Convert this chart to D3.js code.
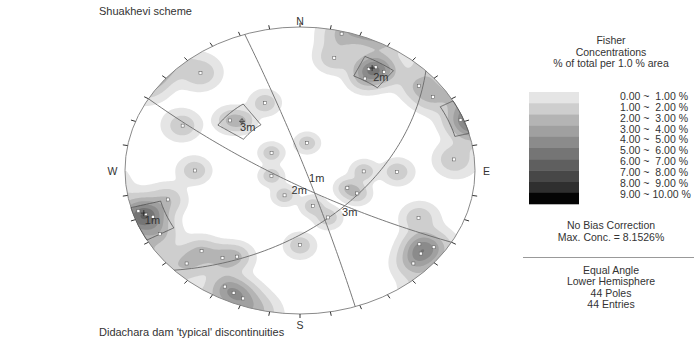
<!DOCTYPE html>
<html>
<head>
<meta charset="utf-8">
<script src="https://cdn.jsdelivr.net/npm/d3@7/dist/d3.min.js"></script>
<style>
  body { margin: 0; background: #fff; }
  text { font-family: "Liberation Sans", Arial, sans-serif; fill: #333; }
</style>
</head>
<body>
<svg id="chart" width="694" height="351"></svg>
<script>

// poles (trend / plunge, degrees)
const poleTrend  = [320, 14, 14, 29, 31, 35, 30, 49, 56, 337, 69, 85, 295, 311, 316, 12, 307, 257, 270, 207, 255, 253, 249, 241, 163, 154, 114, 116, 91, 91, 180, 116, 127, 125, 130, 135, 225, 216, 211, 225, 208, 204, 200, 251];
const polePlunge = [7, 12, 1, 12, 10, 10, 17, 6, 5, 36, 1, 7, 17, 34, 39, 68, 67, 71, 28, 68, 14, 2, 6, 5, 61, 50, 57, 50, 50, 32, 35, 16, 9, 4, 6, 5, 13, 16, 20, 5, 5, 4, 3, 4];

// joint sets: mean poles and windows
const setNames = ["1m", "2m", "3m"];
const setMeanTrend  = [251.6, 30, 316];
const setMeanPlunge = [3.5, 11, 39];
const windowTrend  = [[241, 255], [25, 37.5], [304, 325]];
const windowPlunge = [[-5, 11], [7.5, 18], [31, 47.5]];

// legend
const levelFrom = [0, 1, 2, 3, 4, 5, 6, 7, 8, 9];
const levelTo   = [1, 2, 3, 4, 5, 6, 7, 8, 9, 10];
const bandColors = ["#e5e5e5", "#cecece", "#b4b4b4", "#a0a0a0", "#8b8b8b", "#757575", "#5f5f5f", "#474747", "#2f2f2f", "#050505"];
const cardinals = ["N", "E", "S", "W"];
const cardinalAz = [0, 90, 180, 270];
const headerLines = ["Fisher", "Concentrations", "% of total per 1.0 % area"];
const biasLines = ["No Bias Correction", "Max. Conc. = 8.1526%"];
const infoLines = ["Equal Angle", "Lower Hemisphere", "44 Poles", "44 Entries"];

const cx = 300, cy = 170.5, rx = 175, ry = 143.5;
const svg = d3.select("#chart");

const xs = d3.scaleLinear().domain([-1, 1]).range([cx - rx, cx + rx]);
const ys = d3.scaleLinear().domain([-1, 1]).range([cy + ry, cy - ry]);

const rad = Math.PI / 180;
function toVec(trend, plunge) {
  const t = trend * rad, p = plunge * rad;
  return [Math.cos(p) * Math.sin(t), Math.cos(p) * Math.cos(t), Math.sin(p)];
}
// equal angle, lower hemisphere
function proj(v) {
  let [e, n, d] = v;
  if (d < 0) { e = -e; n = -n; d = -d; }
  return [xs(e / (1 + d)), ys(n / (1 + d))];
}

// ---- Fisher density on a grid
const K = 150, A = 1.8, lowCut = 0.3;
const N = 220;
const poleVecs = poleTrend.map((t, i) => toVec(t, polePlunge[i]));
const grid = new Float64Array(N * N);
for (let j = 0; j < N; j++) {
  for (let i = 0; i < N; i++) {
    let u = -1 + (i + 0.5) / N * 2, w = 1 - (j + 0.5) / N * 2;
    let r = Math.hypot(u, w);
    if (r > 1) { u /= r; w /= r; r = 1; }
    const den = 1 + r * r;
    const v = [2 * u / den, 2 * w / den, (1 - r * r) / den];
    let s = 0;
    for (const p of poleVecs) {
      const c = Math.abs(v[0] * p[0] + v[1] * p[1] + v[2] * p[2]);
      s += Math.exp(K * (c - 1));
    }
    grid[j * N + i] = A * s;
  }
}

const thresholds = levelFrom.map((l, i) => i === 0 ? lowCut : l);
const contours = d3.contours().size([N, N]).thresholds(thresholds)(grid);

const gridPath = d3.geoPath(d3.geoTransform({
  point: function (x, y) { this.stream.point(xs(-1 + x / N * 2), ys(1 - y / N * 2)); }
}));

svg.append("clipPath").attr("id", "net")
  .append("ellipse").attr("cx", cx).attr("cy", cy).attr("rx", rx).attr("ry", ry);

svg.append("g").attr("clip-path", "url(#net)")
  .selectAll("path")
  .data(contours)
  .enter()
  .append("path")
  .attr("d", gridPath)
  .attr("fill", (d, i) => bandColors[i])
  .attr("stroke", "none");

// primitive circle + ticks
svg.append("ellipse")
  .attr("cx", cx).attr("cy", cy).attr("rx", rx).attr("ry", ry)
  .attr("fill", "none").attr("stroke", "#8a8a8a").attr("stroke-width", 1);

const tickAz = d3.range(0, 360, 10).filter(a => a !== 90 && a !== 270);
svg.append("g").selectAll("line")
  .data(tickAz)
  .enter()
  .append("line")
  .attr("x1", a => xs(Math.sin(a * rad)))
  .attr("y1", a => ys(Math.cos(a * rad)))
  .attr("x2", a => xs(1.028 * Math.sin(a * rad)))
  .attr("y2", a => ys(1.028 * Math.cos(a * rad)))
  .attr("stroke", "#333").attr("stroke-width", 1);

const cardR = [1.04, 1.066, 1.074, 1.071];
svg.append("g").selectAll("text")
  .data(cardinals)
  .enter()
  .append("text")
  .attr("x", (d, i) => xs(cardR[i] * Math.sin(cardinalAz[i] * rad)))
  .attr("y", (d, i) => ys(cardR[i] * Math.cos(cardinalAz[i] * rad)) + 4)
  .attr("text-anchor", "middle")
  .attr("font-size", 10.5)
  .text(d => d);

// ---- great circles of the mean planes
const line = d3.line();
const setVecs = setNames.map((s, i) => {
  const T = setMeanTrend[i], P = setMeanPlunge[i];
  const strike = [Math.sin((T + 90) * rad), Math.cos((T + 90) * rad), 0];
  const dip = toVec(T + 180, 90 - P);
  return { strike, dip };
});
svg.append("g").selectAll("path")
  .data(setVecs)
  .enter()
  .append("path")
  .attr("d", d => line(d3.range(0, 181, 2).map(a => {
    const c = Math.cos(a * rad), s = Math.sin(a * rad);
    return proj([c * d.strike[0] + s * d.dip[0], c * d.strike[1] + s * d.dip[1], c * d.strike[2] + s * d.dip[2]]);
  })))
  .attr("fill", "none").attr("stroke", "#6a6a6a").attr("stroke-width", 0.9);

// plane labels at the dip point
const planeOff = [[4, 13], [0, 12], [-1, 9]];
svg.append("g").selectAll("text")
  .data(setVecs)
  .enter()
  .append("text")
  .attr("x", (d, i) => proj(d.dip)[0] + planeOff[i][0])
  .attr("y", (d, i) => proj(d.dip)[1] + planeOff[i][1])
  .attr("font-size", 11)
  .text((d, i) => setNames[i]);

// ---- set windows
function ring(t1, t2, p1, p2) {
  const pts = [];
  d3.range(0, 21).forEach(k => pts.push([t1 + (t2 - t1) * k / 20, p1]));
  d3.range(0, 21).forEach(k => pts.push([t2, p1 + (p2 - p1) * k / 20]));
  d3.range(0, 21).forEach(k => pts.push([t2 - (t2 - t1) * k / 20, p2]));
  d3.range(0, 21).forEach(k => pts.push([t1, p2 - (p2 - p1) * k / 20]));
  return pts.map(p => proj(toVec(p[0], p[1])));
}
const rings = [];
setNames.forEach((s, i) => {
  const [t1, t2] = windowTrend[i], [p1, p2] = windowPlunge[i];
  rings.push(ring(t1, t2, Math.max(p1, 0), p2));
  if (p1 < 0) rings.push(ring(t1, t2, p1, -1e-6));
});
svg.append("g").selectAll("path")
  .data(rings)
  .enter()
  .append("path")
  .attr("d", d => line(d) + "Z")
  .attr("fill", "none").attr("stroke", "#505050").attr("stroke-width", 0.8);

// ---- poles
svg.append("g").selectAll("rect")
  .data(poleVecs)
  .enter()
  .append("rect")
  .attr("x", d => proj(d)[0] - 1.5)
  .attr("y", d => proj(d)[1] - 1.5)
  .attr("width", 3).attr("height", 3)
  .attr("fill", "#fff").attr("stroke", "#555").attr("stroke-width", 0.5);

// mean pole markers
const meanPts = setNames.map((s, i) => proj(toVec(setMeanTrend[i], setMeanPlunge[i])));
const meanOff = [[1, 11], [1, 13], [-2, 10]];
const mg = svg.append("g");
mg.selectAll("path")
  .data(meanPts)
  .enter()
  .append("path")
  .attr("d", d => `M${d[0] - 3},${d[1]}H${d[0] + 3}M${d[0]},${d[1] - 3}V${d[1] + 3}`)
  .attr("stroke", "#222").attr("stroke-width", 0.8);
mg.selectAll("text")
  .data(meanPts)
  .enter()
  .append("text")
  .attr("x", (d, i) => d[0] + meanOff[i][0])
  .attr("y", (d, i) => d[1] + meanOff[i][1])
  .attr("font-size", 11)
  .text((d, i) => setNames[i]);

// ---- titles
svg.append("text").attr("x", 99).attr("y", 15).attr("font-size", 11).text("Shuakhevi scheme");
svg.append("text").attr("x", 99).attr("y", 336).attr("font-size", 11).text("Didachara dam 'typical' discontinuities");

// ---- legend
const lx = 611;
svg.append("g").selectAll("text")
  .data(headerLines)
  .enter()
  .append("text")
  .attr("x", lx).attr("y", (d, i) => 44 + i * 11.5)
  .attr("text-anchor", "middle").attr("font-size", 10.5)
  .text(d => d);

const band = d3.scaleBand().domain(d3.range(levelFrom.length)).range([92, 204]);
svg.append("g").selectAll("rect")
  .data(levelFrom)
  .enter()
  .append("rect")
  .attr("x", 529).attr("y", (d, i) => band(i))
  .attr("width", 50).attr("height", band.bandwidth() + 0.3)
  .attr("fill", (d, i) => bandColors[i]);

const labelY = d3.scalePoint().domain(d3.range(levelFrom.length)).range([96, 194.3]);
svg.append("g").selectAll("text")
  .data(levelFrom)
  .enter()
  .append("text")
  .attr("x", 620).attr("y", (d, i) => labelY(i) + 3.8)
  .attr("font-size", 10.5)
  .style("white-space", "pre")
  .text((d, i) => `${d.toFixed(2)} ~ ${levelTo[i] < 10 ? " " : ""}${levelTo[i].toFixed(2)} %`);

svg.append("g").selectAll("text")
  .data(biasLines)
  .enter()
  .append("text")
  .attr("x", lx).attr("y", (d, i) => 229 + i * 12)
  .attr("text-anchor", "middle").attr("font-size", 10.5)
  .text(d => d);

svg.append("line").attr("x1", 523).attr("x2", 694).attr("y1", 257.5).attr("y2", 257.5)
  .attr("stroke", "#999").attr("stroke-width", 1);

svg.append("g").selectAll("text")
  .data(infoLines)
  .enter()
  .append("text")
  .attr("x", lx).attr("y", (d, i) => 274 + i * 11.3)
  .attr("text-anchor", "middle").attr("font-size", 10.5)
  .text(d => d);

</script>
</body>
</html>
